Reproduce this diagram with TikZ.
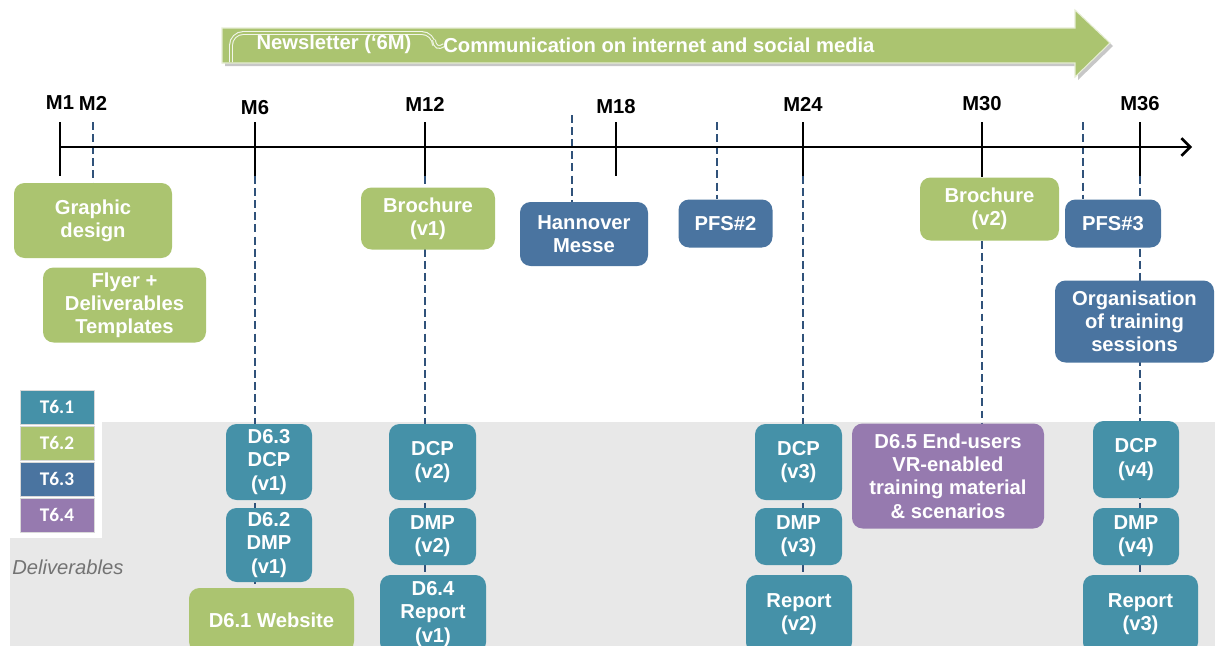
\documentclass[tikz,border=0pt]{standalone}
\usepackage{fontspec}
\setmainfont{Liberation Sans}
\newfontfamily\legendfont{Carlito}
\usepackage{tikz}
\usetikzlibrary{shapes,arrows,arrows.meta,positioning,backgrounds}

\definecolor{wpteal}{RGB}{69,145,168}
\definecolor{wpgreen}{RGB}{171,196,112}
\definecolor{wpblue}{RGB}{74,116,160}
\definecolor{wppurple}{RGB}{150,122,175}
\definecolor{wpnavy}{RGB}{48,82,122}
\definecolor{bandgray}{RGB}{232,232,232}

\begin{document}
\begin{tikzpicture}[
  x=0.02cm, y=-0.02cm,
  every node/.style={font=\fontsize{11.5}{13.2}\selectfont\bfseries},
  sz/.style 2 args={minimum width=#1*0.02cm, minimum height=#2*0.02cm},
  box/.style={rounded corners=6pt, text=white, align=center, inner sep=0pt},
  tb/.style={box, fill=wpteal},
  gb/.style={box, fill=wpgreen},
  bb/.style={box, fill=wpblue},
  pb/.style={box, fill=wppurple},
  legend/.style={sz={74}{34}, fill=#1, draw=white!85!black, line width=0.4pt,
    text=white, font=\legendfont\fontsize{11}{12}\selectfont\bfseries},
  mtick/.style={line width=1.5pt},
  guide/.style={draw=wpnavy, line width=1.6pt, dash pattern=on 4.5pt off 2.4pt},
]
\useasboundingbox (0,0) rectangle (1215,646);

% deliverables band
\begin{pgfonlayer}{background}
\fill[bandgray] (10,422) rectangle (1215,646);
\end{pgfonlayer}

% communication arrow
\fill[black!22] (225,31) -- (1078,31) -- (1078,13) -- (1113,46) -- (1078,80)
  -- (1078,66) -- (225,66) -- cycle;
\fill[wpgreen, draw=white!70!wpgreen, line width=0.6pt]
  (222,28) -- (1075,28) -- (1075,10) -- (1110,43) -- (1075,77)
  -- (1075,63) -- (222,63) -- cycle;
\draw[draw=white!85!wpgreen, double=wpgreen, double distance=1pt, line width=0.6pt,
  rounded corners=7pt] (231,62) -- (231,33) -- (434,33) -- (434,40);
\draw[draw=white!85!wpgreen, double=wpgreen, double distance=1pt, line width=0.6pt]
  (434,40) .. controls (435,47) and (438,49) .. (444,45);
\node[text=white] (news) at (334,44) {Newsletter (‘6M)};
\node[text=white, anchor=west, inner sep=0pt] (comm) at (443,45)
  {Communication on internet and social media};

% time axis
\coordinate (ax0) at (60,147);
\coordinate (ax1) at (1192,147);
\draw[line width=1.5pt, -{Straight Barb[length=5pt,width=10pt]}] (ax0) -- (ax1);
\foreach \x/\m/\y in {60/1/103, 255/6/108, 425/12/104, 616/18/107,
                      803/24/104, 982/30/104, 1140/36/104} {
  \draw[mtick] (\x,122) coordinate (top\m) -- (\x,176) coordinate (bot\m);
  \node (lab\m) at (\x,\y) {M\m};
}
\node (lab2) at (93,103) {M2};
\coordinate (top2) at (93,122);
\coordinate (hm) at (572,115);
\coordinate (p2) at (717,122);
\coordinate (p3) at (1083,122);

% events
\node[gb, sz={158}{75}] (gd)   at (93,220.5)   {Graphic\\design};
\node[gb, sz={163}{75}] (fly)  at (124.5,305)  {Flyer +\\Deliverables\\Templates};
\node[gb, sz={134}{62}] (br1)  at (428,218.5)  {Brochure\\(v1)};
\node[bb, sz={128}{64}] (han)  at (584,234)    {Hannover\\Messe};
\node[bb, sz={94}{48}]  (pfs2) at (725.5,223.5) {PFS\#2};
\node[gb, sz={139}{63}] (br2)  at (989.5,209)  {Brochure\\(v2)};
\node[bb, sz={96}{48}]  (pfs3) at (1113,223.5) {PFS\#3};
\node[bb, sz={159}{82}] (org)  at (1134.5,321.5) {Organisation\\of training\\sessions};

% deliverables
\node[tb, sz={86}{76}]  (d63)  at (269,462)    {D6.3\\DCP\\(v1)};
\node[tb, sz={86}{74}]  (d62)  at (269,545)    {D6.2\\DMP\\(v1)};
\node[gb, sz={165}{64}] (web)  at (271.5,620)  {D6.1 Website};
\node[tb, sz={87}{76}]  (dcp2) at (432.5,462)  {DCP\\(v2)};
\node[tb, sz={87}{57}]  (dmp2) at (432.5,536.5) {DMP\\(v2)};
\node[tb, sz={106}{78}] (d64)  at (433,614)    {D6.4\\Report\\(v1)};
\node[tb, sz={87}{76}]  (dcp3) at (798.5,462)  {DCP\\(v3)};
\node[tb, sz={87}{57}]  (dmp3) at (798.5,536.5) {DMP\\(v3)};
\node[tb, sz={106}{78}] (rep2) at (799,614)    {Report\\(v2)};
\node[pb, sz={192}{105}] (d65) at (948,476)    {D6.5 End-users\\VR-enabled\\training material\\\& scenarios};
\node[tb, sz={86}{77}]  (dcp4) at (1136,459.5) {DCP\\(v4)};
\node[tb, sz={86}{57}]  (dmp4) at (1136,536.5) {DMP\\(v4)};
\node[tb, sz={115}{78}] (rep3) at (1140.5,614) {Report\\(v3)};

\draw[mtick] (bot30) -- (bot30 |- br2.north);

\begin{pgfonlayer}{background}
\draw[guide] (top2) -- (gd.north);
\draw[guide] (bot6) -- (bot6 |- web.north);
\draw[guide] (bot12) -- (bot12 |- d64.north);
\draw[guide] (hm) -- (hm |- han.north);
\draw[guide] (p2) -- (p2 |- pfs2.north);
\draw[guide] (bot24) -- (bot24 |- rep2.north);
\draw[guide] (bot30 |- br2.south) -- (bot30 |- d65.north);
\draw[guide] (p3) -- (p3 |- pfs3.north);
\draw[guide] (bot36) -- (bot36 |- rep3.north);
\end{pgfonlayer}

% legend
\fill[white] (10,380) rectangle (102,538);
\node[legend=wpteal]   (t1) at (57,407) {T6.1};
\node[legend=wpgreen]  (t2) at (57,443) {T6.2};
\node[legend=wpblue]   (t3) at (57,479) {T6.3};
\node[legend=wppurple] (t4) at (57,515) {T6.4};
\node[font=\fontsize{11.5}{13}\selectfont\itshape, text=black!55, anchor=west,
  inner sep=0pt] (deliv) at (12,567) {Deliverables};
\end{tikzpicture}
\end{document}
